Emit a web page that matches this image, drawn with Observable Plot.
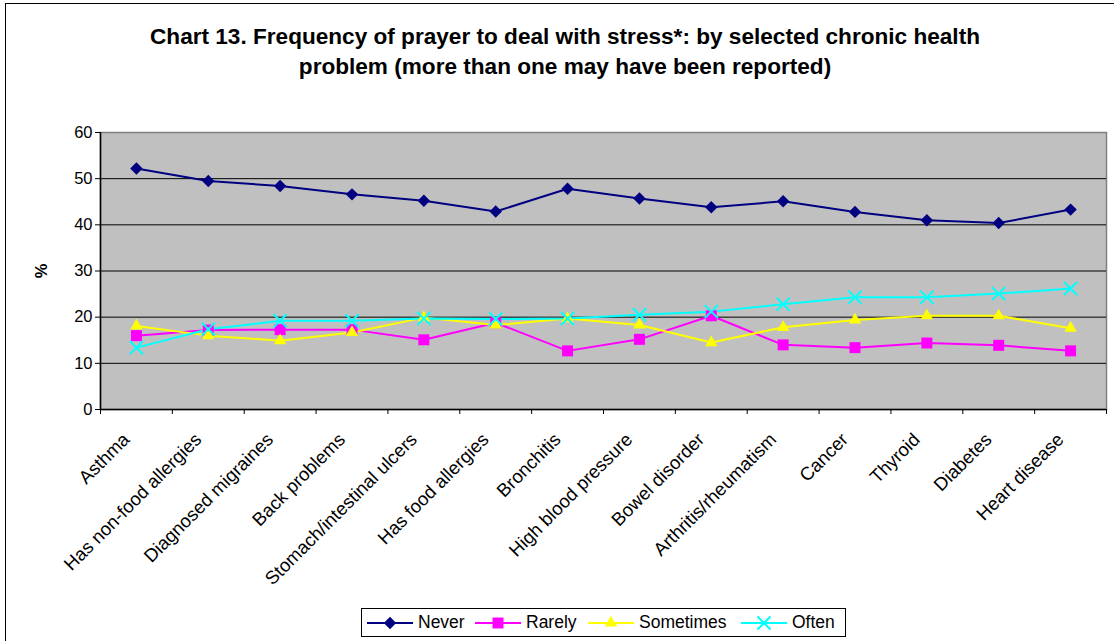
<!DOCTYPE html>
<html>
<head>
<meta charset="utf-8">
<script src="https://cdn.jsdelivr.net/npm/d3@7"></script>
<script src="https://cdn.jsdelivr.net/npm/@observablehq/plot@0.6"></script>
<style>
  html, body { margin: 0; padding: 0; background: #fff; }
  body { font-family: "Liberation Sans", Arial, sans-serif; color: #000; }
  #wrap { position: relative; width: 1114px; height: 641px; overflow: hidden; }
  #border { position: absolute; left: 5px; top: 3px; width: 1200px; height: 700px; border: 1.5px solid #000; box-sizing: border-box; }
  #title { position: absolute; left: 0; width: 1130px; top: 22px; text-align: center; font-weight: bold; font-size: 22.6px; line-height: 30px; }
  #ylabel { position: absolute; left: 41px; top: 271px; transform: translate(-50%, -50%) rotate(-90deg); font-weight: bold; font-size: 16.5px; }
  #chart { position: absolute; left: 0; top: 0; }
  #legend { position: absolute; left: 361px; top: 608px; width: 485px; height: 29px; box-sizing: border-box; border: 1px solid #000; background: #fff; font-size: 17.5px; }
  .item { position: absolute; top: 0; height: 27px; display: flex; align-items: center; }
  .item svg { margin-right: 5px; }
</style>
</head>
<body>
<div id="wrap">
  <div id="border"></div>
  <div id="chart"></div>
  <div id="title">Chart 13. Frequency of prayer to deal with stress*: by selected chronic health<br>problem (more than one may have been reported)</div>
  <div id="ylabel">%</div>
  <div id="legend"></div>
</div>
<script>
// Chronic health problems along the x axis
const categories = [
  "Asthma", "Has non-food allergies", "Diagnosed migraines", "Back problems",
  "Stomach/intestinal ulcers", "Has food allergies", "Bronchitis", "High blood pressure",
  "Bowel disorder", "Arthritis/rheumatism", "Cancer", "Thyroid", "Diabetes", "Heart disease"
];

// Percent praying with each frequency
const never     = [52.2, 49.5, 48.4, 46.6, 45.2, 42.9, 47.8, 45.7, 43.8, 45.1, 42.8, 41.0, 40.4, 43.3];
const rarely    = [16.0, 17.2, 17.3, 17.3, 15.1, 18.8, 12.7, 15.2, 20.3, 14.0, 13.4, 14.4, 13.9, 12.7];
const sometimes = [18.1, 16.0, 14.9, 16.7, 19.9, 18.3, 19.7, 18.3, 14.5, 17.8, 19.4, 20.3, 20.3, 17.6];
const often     = [13.4, 17.4, 19.2, 19.2, 19.7, 19.6, 19.7, 20.5, 21.2, 22.8, 24.3, 24.3, 25.1, 26.2];

const seriesNames = ["Never", "Rarely", "Sometimes", "Often"];
const seriesValues = [never, rarely, sometimes, often];
const seriesColors = ["#000080", "#ff00ff", "#ffff00", "#00ffff"];
const yTicks = [0, 10, 20, 30, 40, 50, 60];

// Marker style for each series
const markerStyle = {
  Never:     {symbol: "diamond2", r: 5.6, fill: "#000080", stroke: "none"},
  Rarely:    {symbol: "square",   r: 6.2, fill: "#ff00ff", stroke: "none"},
  Sometimes: {symbol: "triangle", r: 4.6, fill: "#ffff00", stroke: "none"},
  Often:     {symbol: "times",    r: 6.0, fill: "none",    stroke: "#00ffff", strokeWidth: 2}
};

// Long-format table: one row per (series, category)
const rows = seriesNames.flatMap((s, k) =>
  categories.map((c, i) => ({series: s, category: c, pos: i + 0.5, value: seriesValues[k][i]}))
);

const lineMarks = seriesNames.map((s, k) =>
  Plot.line(rows.filter(d => d.series === s), {x: "pos", y: "value", stroke: seriesColors[k], strokeWidth: 2})
);
const dotMarks = seriesNames.map(s => {
  const m = markerStyle[s];
  return Plot.dot(rows.filter(d => d.series === s), {
    x: "pos", y: "value", symbol: () => m.symbol, r: m.r,
    fill: m.fill, stroke: m.stroke, strokeWidth: m.strokeWidth || 1
  });
});

const chart = Plot.plot({
  width: 1114,
  height: 641,
  marginTop: 132,
  marginLeft: 100,
  marginRight: 8,
  marginBottom: 232,
  style: {fontFamily: "'Liberation Sans', Arial, sans-serif", fontSize: "16.5px", color: "#000", background: "transparent"},
  x: {type: "linear", domain: [0, categories.length], axis: null},
  y: {domain: [0, 60], axis: null},
  symbol: {type: "identity"},
  marks: [
    Plot.frame({fill: "#c0c0c0", stroke: "#808080", strokeWidth: 1.5}),
    Plot.gridY(yTicks.filter(t => t > 0 && t < 60), {stroke: "#000", strokeOpacity: 1, strokeWidth: 1}),
    Plot.axisY({ticks: yTicks, tickSize: 5, tickPadding: 3, label: null, fontSize: 16.5}),
    Plot.axisX({ticks: d3.range(0, categories.length + 1), tickSize: 5, tickFormat: () => "", label: null}),
    Plot.axisX({
      ticks: categories.map((c, i) => i + 0.5),
      tickFormat: v => categories[Math.round(v - 0.5)],
      tickRotate: -45, tickSize: 0, tickPadding: 27, dx: -10, label: null, fontSize: 18.5
    }),
    Plot.ruleX([0], {stroke: "#000", strokeWidth: 1.5}),
    Plot.ruleY([0], {stroke: "#000", strokeWidth: 1.5}),
    ...lineMarks,
    ...dotMarks
  ]
});
document.getElementById("chart").appendChild(chart);

// Legend: line segment with marker, then the series name
const legendLeft = [5, 113, 226, 379];
const legend = d3.select("#legend");
seriesNames.forEach((s, k) => {
  const m = markerStyle[s];
  const item = legend.append("div").attr("class", "item").style("left", legendLeft[k] + "px");
  const svg = item.append("svg").attr("width", 46).attr("height", 16);
  svg.append("line").attr("x1", 0).attr("x2", 46).attr("y1", 8).attr("y2", 8)
    .attr("stroke", seriesColors[k]).attr("stroke-width", 2);
  const symbolType = {diamond2: d3.symbolSquare, square: d3.symbolSquare, triangle: d3.symbolTriangle, times: d3.symbolTimes}[m.symbol];
  svg.append("path")
    .attr("d", d3.symbol(symbolType, Math.PI * m.r * m.r * (m.symbol === "diamond2" ? 0.78 : 1))())
    .attr("transform", `translate(23,8)${m.symbol === "diamond2" ? " rotate(45)" : ""}`)
    .attr("fill", m.fill).attr("stroke", m.stroke === "none" ? null : m.stroke)
    .attr("stroke-width", m.strokeWidth || 1);
  item.append("span").text(s);
});
</script>
</body>
</html>
